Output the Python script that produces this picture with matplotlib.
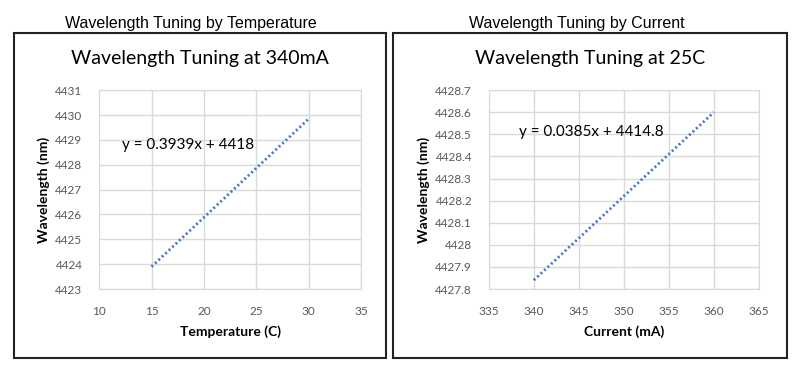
import matplotlib.pyplot as plt
from matplotlib.patches import Rectangle

# temperature tuning (at 340 mA)
temp_x = [15, 30]
temp_y = [4423.9, 4429.85]
temp_xticks = [10, 15, 20, 25, 30, 35]
temp_yticks = [4423, 4424, 4425, 4426, 4427, 4428, 4429, 4430, 4431]

# current tuning (at 25 C)
cur_x = [340, 360]
cur_y = [4427.84, 4428.60]
cur_xticks = [335, 340, 345, 350, 355, 360, 365]
cur_yticks = [4427.8, 4427.9, 4428.0, 4428.1, 4428.2, 4428.3, 4428.4, 4428.5, 4428.6, 4428.7]
cur_ylabels = ['4427.8', '4427.9', '4428', '4428.1', '4428.2', '4428.3',
               '4428.4', '4428.5', '4428.6', '4428.7']

body_font = ['Lato', 'DejaVu Sans']
head_font = ['Liberation Sans Narrow', 'Liberation Sans', 'DejaVu Sans']
blue = '#4472C4'
grid_c = '#d9d9d9'
tick_c = '#595959'

fig = plt.figure(figsize=(8, 3.71), dpi=100)

# outer frames
for x0, w in [(0.0175, 0.465), (0.491, 0.493)]:
    fig.patches.append(Rectangle((x0, 0.035), w, 0.876, transform=fig.transFigure,
                                 fill=False, ec='#222222', lw=1.5))

fig.text(0.239, 0.938, 'Wavelength Tuning by Temperature', ha='center', va='center',
         fontsize=11.5, family=head_font)
fig.text(0.721, 0.938, 'Wavelength Tuning by Current', ha='center', va='center',
         fontsize=11.5, family=head_font)
fig.text(0.25, 0.841, 'Wavelength Tuning at 340mA', ha='center', va='center',
         fontsize=14, family=body_font)
fig.text(0.7375, 0.841, 'Wavelength Tuning at 25C', ha='center', va='center',
         fontsize=14, family=body_font)


def style(ax):
    ax.grid(True, color=grid_c, lw=1)
    ax.set_axisbelow(True)
    for s in ax.spines.values():
        s.set_color(grid_c)
    ax.tick_params(length=0, labelsize=8.5, labelcolor=tick_c, pad=12)
    for lab in ax.get_xticklabels() + ax.get_yticklabels():
        lab.set_family(body_font)


ax1 = fig.add_axes([0.124, 0.221, 0.3275, 0.536])
ax1.plot(temp_x, temp_y, color=blue, lw=2, ls=(0, (0.7, 1.0)))
ax1.set_xlim(10, 35)
ax1.set_ylim(4423, 4431)
ax1.set_xticks(temp_xticks)
ax1.set_yticks(temp_yticks)
ax1.set_yticklabels([str(v) for v in temp_yticks])
ax1.set_xlabel('Temperature (C)', fontsize=10, fontweight='bold', family=body_font, labelpad=6)
ax1.set_ylabel('Wavelength (nm)', fontsize=10, fontweight='bold', family=body_font, labelpad=4)
ax1.text(12.2, 4428.8, 'y = 0.3939x + 4418', fontsize=11, va='center', family=body_font)
style(ax1)

ax2 = fig.add_axes([0.611, 0.221, 0.3375, 0.536])
ax2.plot(cur_x, cur_y, color=blue, lw=2, ls=(0, (0.7, 1.0)))
ax2.set_xlim(335, 365)
ax2.set_ylim(4427.8, 4428.7)
ax2.set_xticks(cur_xticks)
ax2.set_yticks(cur_yticks)
ax2.set_yticklabels(cur_ylabels)
ax2.set_xlabel('Current (mA)', fontsize=10, fontweight='bold', family=body_font, labelpad=6)
ax2.set_ylabel('Wavelength (nm)', fontsize=10, fontweight='bold', family=body_font, labelpad=4)
ax2.text(338.3, 4428.51, 'y = 0.0385x + 4414.8', fontsize=11, va='center', family=body_font)
style(ax2)

fig.savefig('out.png', dpi=100)
